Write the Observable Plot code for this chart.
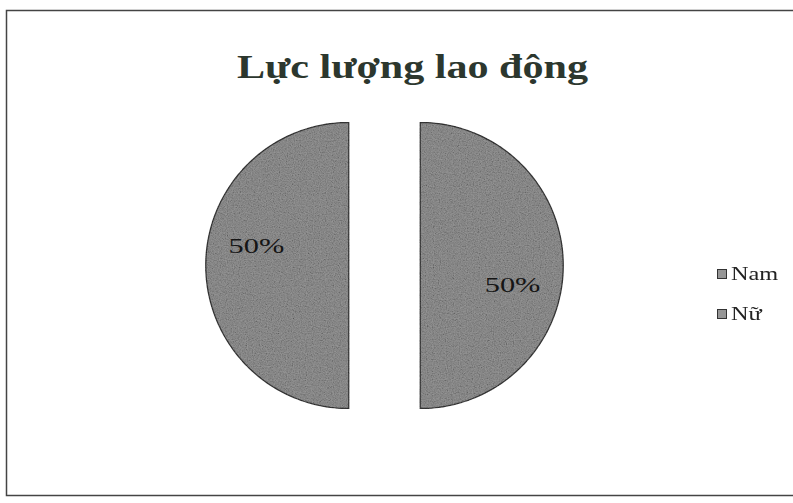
<!DOCTYPE html>
<html>
<head>
<meta charset="utf-8">
<script src="https://cdn.jsdelivr.net/npm/d3@7"></script>
<script src="https://cdn.jsdelivr.net/npm/@observablehq/plot@0.6"></script>
<style>
  html, body { margin: 0; padding: 0; background: #fff; overflow: hidden; }
  #wrap { position: relative; width: 793px; height: 503px; overflow: hidden; background: #fff; }
  #wrap svg { max-width: none !important; }
  .legend { position: absolute; left: 717px; top: 254px; font-family: "Liberation Serif", "Times New Roman", serif; font-size: 18px; color: #222; }
  .item { display: flex; align-items: center; height: 40px; }
  .sw { width: 8px; height: 8px; background: #8f8f8f; border: 1.5px solid #333; margin-right: 4px; box-sizing: content-box; }
  .lab { display: inline-block; transform: scaleX(1.35); transform-origin: left center; }
</style>
</head>
<body>
<div id="wrap"></div>
<script>
// ---- data ----
const title = "Lực lượng lao động";
const categories = ["Nam", "Nữ"];
const values = [50, 50];
const sliceColors = ["#969696", "#969696"];

// ---- derived ----
const rows = categories.map((name, i) => ({name, value: values[i], color: sliceColors[i]}));
const total = d3.sum(values);
const arcs = d3.pie().sort(null).value(d => d.value).startAngle(0).endAngle(2 * Math.PI)(rows);
const explode = 0.25;   // in radius units
const labelR = 0.66;
const labelRot = 12 * Math.PI / 180;
arcs.forEach(a => {
  const mid = (a.startAngle + a.endAngle) / 2;
  a.ox = Math.sin(mid) * explode;
  a.oy = Math.cos(mid) * explode;
  a.lx = a.ox + Math.sin(mid + labelRot) * labelR;
  a.ly = a.oy + Math.cos(mid + labelRot) * labelR;
  a.pct = d3.format(".0%")(a.data.value / total);
});
const pts = [];
arcs.forEach(a => {
  pts.push({name: a.data.name, color: a.data.color, x: a.ox, y: a.oy});
  const n = 120;
  for (let k = 0; k <= n; k++) {
    const t = a.startAngle + (a.endAngle - a.startAngle) * k / n;
    pts.push({name: a.data.name, color: a.data.color, x: a.ox + Math.sin(t), y: a.oy + Math.cos(t)});
  }
});

const cx = 384, cy = 265, R = 143;
const chart = Plot.plot({
  width: 800,
  height: 503,
  marginLeft: 6,
  marginTop: 10,
  marginRight: 2,
  marginBottom: 8,
  style: {background: "transparent", overflow: "visible", maxWidth: "none"},
  x: {domain: [-1, 1], range: [cx - R, cx + R], axis: null},
  y: {domain: [-1, 1], range: [cy + R, cy - R], axis: null},
  marks: [
    Plot.frame({stroke: "#444", strokeWidth: 1.5}),
    Plot.line(pts, {x: "x", y: "y", z: "name", fill: d => d.color, stroke: "#3a3a3a", strokeWidth: 1.3, curve: "linear-closed", className: "slices"}),
    Plot.text(arcs, {x: "lx", y: "ly", text: "pct", fontSize: 22, fontFamily: "Liberation Serif", fill: "#151515", lineAnchor: "middle", className: "stretch"}),
    Plot.text([title], {frameAnchor: "top", dx: 10, dy: 57, lineAnchor: "middle", fontSize: 34, fontFamily: "Liberation Serif", fontWeight: "bold", fill: "#2c372e", className: "stretch titletext"})
  ]
});
document.getElementById("wrap").appendChild(chart);

// grain filter to mimic the scanned texture
const ns = "http://www.w3.org/2000/svg";
const defs = document.createElementNS(ns, "defs");
defs.innerHTML = `<filter id="grain" x="0" y="0" width="100%" height="100%">
  <feTurbulence type="fractalNoise" baseFrequency="0.85" numOctaves="2" seed="3" result="n"/>
  <feColorMatrix in="n" type="saturate" values="0" result="g"/>
  <feComponentTransfer in="g" result="g2"><feFuncR type="linear" slope="1.6" intercept="-0.25"/><feFuncG type="linear" slope="1.6" intercept="-0.25"/><feFuncB type="linear" slope="1.6" intercept="-0.25"/></feComponentTransfer>
  <feComposite in="g2" in2="SourceGraphic" operator="in" result="m"/>
  <feBlend in="SourceGraphic" in2="m" mode="multiply"/>
</filter>`;
chart.insertBefore(defs, chart.firstChild);
chart.querySelectorAll("g.slices").forEach(g => g.setAttribute("filter", "url(#grain)"));

// horizontal stretch of the serif text as in the reference
chart.querySelectorAll("g.stretch text").forEach(t => {
  const w = t.getComputedTextLength();
  const isTitle = t.closest("g").classList.contains("titletext");
  t.setAttribute("textLength", (isTitle ? 351 : w * 1.38).toFixed(1));
  t.setAttribute("lengthAdjust", "spacingAndGlyphs");
});

// legend
const legend = document.createElement("div");
legend.className = "legend";
rows.forEach(r => {
  const item = document.createElement("div");
  item.className = "item";
  const sw = document.createElement("span");
  sw.className = "sw";
  sw.style.background = r.color;
  const lab = document.createElement("span");
  lab.className = "lab";
  lab.textContent = r.name;
  item.append(sw, lab);
  legend.appendChild(item);
});
document.getElementById("wrap").appendChild(legend);
</script>
</body>
</html>
